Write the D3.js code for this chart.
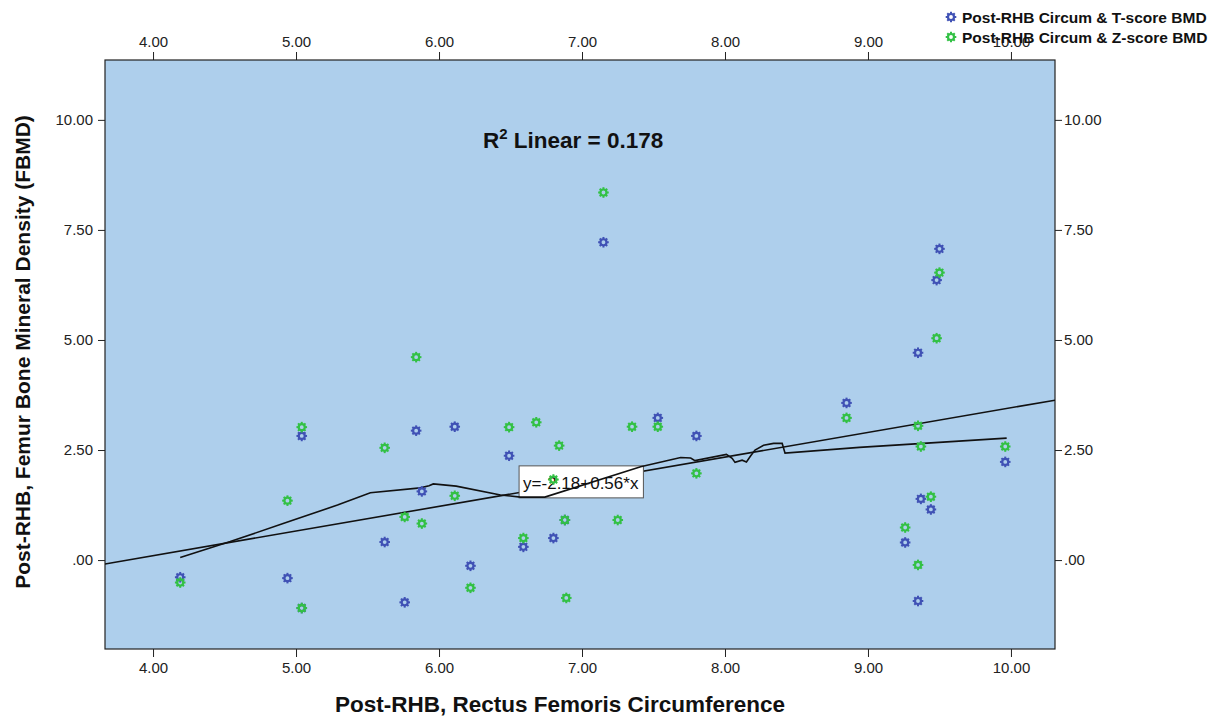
<!DOCTYPE html>
<html>
<head>
<meta charset="utf-8">
<script src="https://cdn.jsdelivr.net/npm/d3@7"></script>
<style>
  body { margin: 0; background: #fff; }
  svg { display: block; }
  text { font-family: "Liberation Sans", Arial, sans-serif; }
</style>
</head>
<body>
<svg id="chart" width="1226" height="717"></svg>
<script>
// tick values
const xTicks = [4, 5, 6, 7, 8, 9, 10];
const yTicks = [0, 2.5, 5, 7.5, 10];

// Post-RHB Circum & T-score BMD (blue)
const tX = [4.19, 4.94, 5.04, 5.04, 5.62, 5.76, 5.84, 5.88, 6.11, 6.22, 6.49, 6.59, 6.80, 6.88, 7.15, 7.53, 7.80, 8.85, 9.50, 9.48, 9.35, 9.96, 9.37, 9.44, 9.26, 9.35];
const tY = [-0.39, -0.41, -1.09, 2.82, 0.41, -0.96, 2.94, 1.56, 3.03, -0.13, 2.37, 0.30, 0.50, 0.91, 7.22, 3.23, 2.82, 3.57, 7.07, 6.36, 4.71, 2.23, 1.39, 1.15, 0.40, -0.93];

// Post-RHB Circum & Z-score BMD (green)
const zX = [4.19, 4.94, 5.04, 5.04, 5.62, 5.76, 5.84, 5.88, 6.11, 6.22, 6.49, 6.59, 6.68, 6.80, 6.84, 6.88, 6.89, 7.15, 7.25, 7.35, 7.53, 7.80, 8.85, 9.50, 9.48, 9.35, 9.37, 9.96, 9.44, 9.26, 9.35];
const zY = [-0.51, 1.35, -1.09, 3.02, 2.55, 0.98, 4.61, 0.83, 1.46, -0.63, 3.02, 0.50, 3.13, 1.83, 2.60, 0.91, -0.86, 8.35, 0.91, 3.03, 3.03, 1.97, 3.23, 6.53, 5.04, 3.05, 2.58, 2.58, 1.44, 0.74, -0.11];

// smoothed curve
const curveX = [4.19, 4.54, 4.91, 5.29, 5.52, 5.87, 5.93, 5.96, 6.12, 6.43, 6.57, 6.74, 7.41, 7.69, 7.76, 7.79, 8.01, 8.05, 8.07, 8.12, 8.15, 8.18, 8.21, 8.27, 8.34, 8.40, 8.42, 8.94, 9.97];
const curveY = [0.06, 0.42, 0.83, 1.25, 1.53, 1.64, 1.69, 1.73, 1.68, 1.48, 1.43, 1.43, 2.12, 2.33, 2.32, 2.26, 2.40, 2.31, 2.22, 2.27, 2.23, 2.37, 2.50, 2.61, 2.65, 2.65, 2.43, 2.56, 2.77];

// linear fit
const fitIntercept = -2.14;
const fitSlope = 0.56;
const fitLabel = "y=-2.18+0.56*x";
const fitLabelAt = [6.56, 2.14];
const rSquared = "0.178";

const seriesNames = ["Post-RHB Circum & T-score BMD", "Post-RHB Circum & Z-score BMD"];
const seriesColors = ["#4052b5", "#33c145"];

const svg = d3.select("#chart");
const margin = { top: 60, right: 171, bottom: 68, left: 105 };
const width = 1226 - margin.left - margin.right;
const height = 717 - margin.top - margin.bottom;

const xScale = d3.scaleLinear().domain([3.664, 10.308]).range([0, width]);
const yScale = d3.scaleLinear().domain([-2.02, 11.36]).range([height, 0]);

const fmt = (d) => {
  const s = d3.format(".2f")(d);
  return s.startsWith("0.") ? s.slice(1) : s;
};

const g = svg.append("g").attr("transform", `translate(${margin.left},${margin.top})`);

g.append("rect")
  .attr("width", width)
  .attr("height", height)
  .attr("fill", "#aecfec");

// axes
const styleAxis = (sel) => {
  sel.select(".domain").remove();
  sel.selectAll(".tick line").attr("stroke", "#222");
  sel.selectAll(".tick text")
    .attr("fill", "#222")
    .style("font-size", "15px");
};

g.append("g")
  .attr("transform", `translate(0,${height})`)
  .call(d3.axisBottom(xScale).tickValues(xTicks).tickFormat(fmt).tickSizeOuter(0).tickSize(8).tickPadding(5))
  .call(styleAxis);

g.append("g")
  .call(d3.axisTop(xScale).tickValues(xTicks).tickFormat(fmt).tickSizeOuter(0).tickSize(8).tickPadding(5))
  .call(styleAxis);

g.append("g")
  .call(d3.axisLeft(yScale).tickValues(yTicks).tickFormat(fmt).tickSizeOuter(0).tickSize(7).tickPadding(5))
  .call(styleAxis);

g.append("g")
  .attr("transform", `translate(${width},0)`)
  .call(d3.axisRight(yScale).tickValues(yTicks).tickFormat(fmt).tickSizeOuter(0).tickSize(7).tickPadding(2))
  .call(styleAxis);

g.append("rect")
  .attr("width", width)
  .attr("height", height)
  .attr("fill", "none")
  .attr("stroke", "#222")
  .attr("stroke-width", 1.2);

// fit line
g.append("clipPath").attr("id", "plot-clip")
  .append("rect").attr("width", width).attr("height", height);

const [x0, x1] = xScale.domain();
g.append("line")
  .attr("clip-path", "url(#plot-clip)")
  .attr("x1", xScale(x0))
  .attr("y1", yScale(fitIntercept + fitSlope * x0))
  .attr("x2", xScale(x1))
  .attr("y2", yScale(fitIntercept + fitSlope * x1))
  .attr("stroke", "#111")
  .attr("stroke-width", 1.6);

// fit label
const lab = g.append("g")
  .attr("transform", `translate(${xScale(fitLabelAt[0])},${yScale(fitLabelAt[1])})`);
const labText = lab.append("text")
  .attr("x", 4)
  .attr("y", 23)
  .style("font-size", "17px")
  .attr("fill", "#111")
  .text(fitLabel);
const tw = labText.node().getComputedTextLength();
lab.insert("rect", "text")
  .attr("width", tw + 9)
  .attr("height", 32)
  .attr("fill", "#fff")
  .attr("stroke", "#555");

// smoothed curve
const curveData = curveX.map((x, i) => [x, curveY[i]]);
g.append("path")
  .datum(curveData)
  .attr("fill", "none")
  .attr("stroke", "#111")
  .attr("stroke-width", 1.6)
  .attr("d", d3.line().x((d) => xScale(d[0])).y((d) => yScale(d[1])));

// gear-like markers
const drawMarker = (sel, color) => {
  sel.append("circle")
    .attr("r", 3)
    .attr("fill", "none")
    .attr("stroke", color)
    .attr("stroke-width", 2.2);
  d3.range(8).forEach((k) => {
    const a = (k * Math.PI) / 4;
    sel.append("line")
      .attr("x1", 3.2 * Math.cos(a)).attr("y1", 3.2 * Math.sin(a))
      .attr("x2", 5.3 * Math.cos(a)).attr("y2", 5.3 * Math.sin(a))
      .attr("stroke", color)
      .attr("stroke-width", 2);
  });
};

const series = [
  { xs: tX, ys: tY, color: seriesColors[0] },
  { xs: zX, ys: zY, color: seriesColors[1] }
];

series.forEach((s) => {
  g.append("g")
    .selectAll("g")
    .data(s.xs.map((x, i) => [x, s.ys[i]]))
    .join("g")
    .attr("transform", (d) => `translate(${xScale(d[0])},${yScale(d[1])})`)
    .each(function () { drawMarker(d3.select(this), s.color); });
});

// R squared
const rText = g.append("text")
  .attr("x", 378)
  .attr("y", 88)
  .style("font-size", "22.5px")
  .style("font-weight", "bold")
  .attr("fill", "#111");
rText.append("tspan").text("R");
rText.append("tspan").attr("dy", -9).style("font-size", "15px").text("2");
rText.append("tspan").attr("dy", 9).text(` Linear = ${rSquared}`);

// axis titles
svg.append("text")
  .attr("x", margin.left + 455)
  .attr("y", 712)
  .attr("text-anchor", "middle")
  .style("font-size", "22.5px")
  .style("font-weight", "bold")
  .attr("fill", "#111")
  .text("Post-RHB, Rectus Femoris Circumference");

svg.append("text")
  .attr("transform", "translate(30,352) rotate(-90)")
  .attr("text-anchor", "middle")
  .style("font-size", "21px")
  .style("font-weight", "bold")
  .attr("fill", "#111")
  .text("Post-RHB, Femur Bone Mineral Density (FBMD)");

// legend
const legend = svg.append("g").attr("transform", "translate(951,17)");
seriesNames.forEach((name, i) => {
  const row = legend.append("g").attr("transform", `translate(0,${i * 20})`);
  drawMarker(row.append("g"), seriesColors[i]);
  row.append("text")
    .attr("x", 11)
    .attr("y", 5.5)
    .style("font-size", "15.5px")
    .style("font-weight", "bold")
    .attr("fill", "#111")
    .text(name);
});
</script>
</body>
</html>
